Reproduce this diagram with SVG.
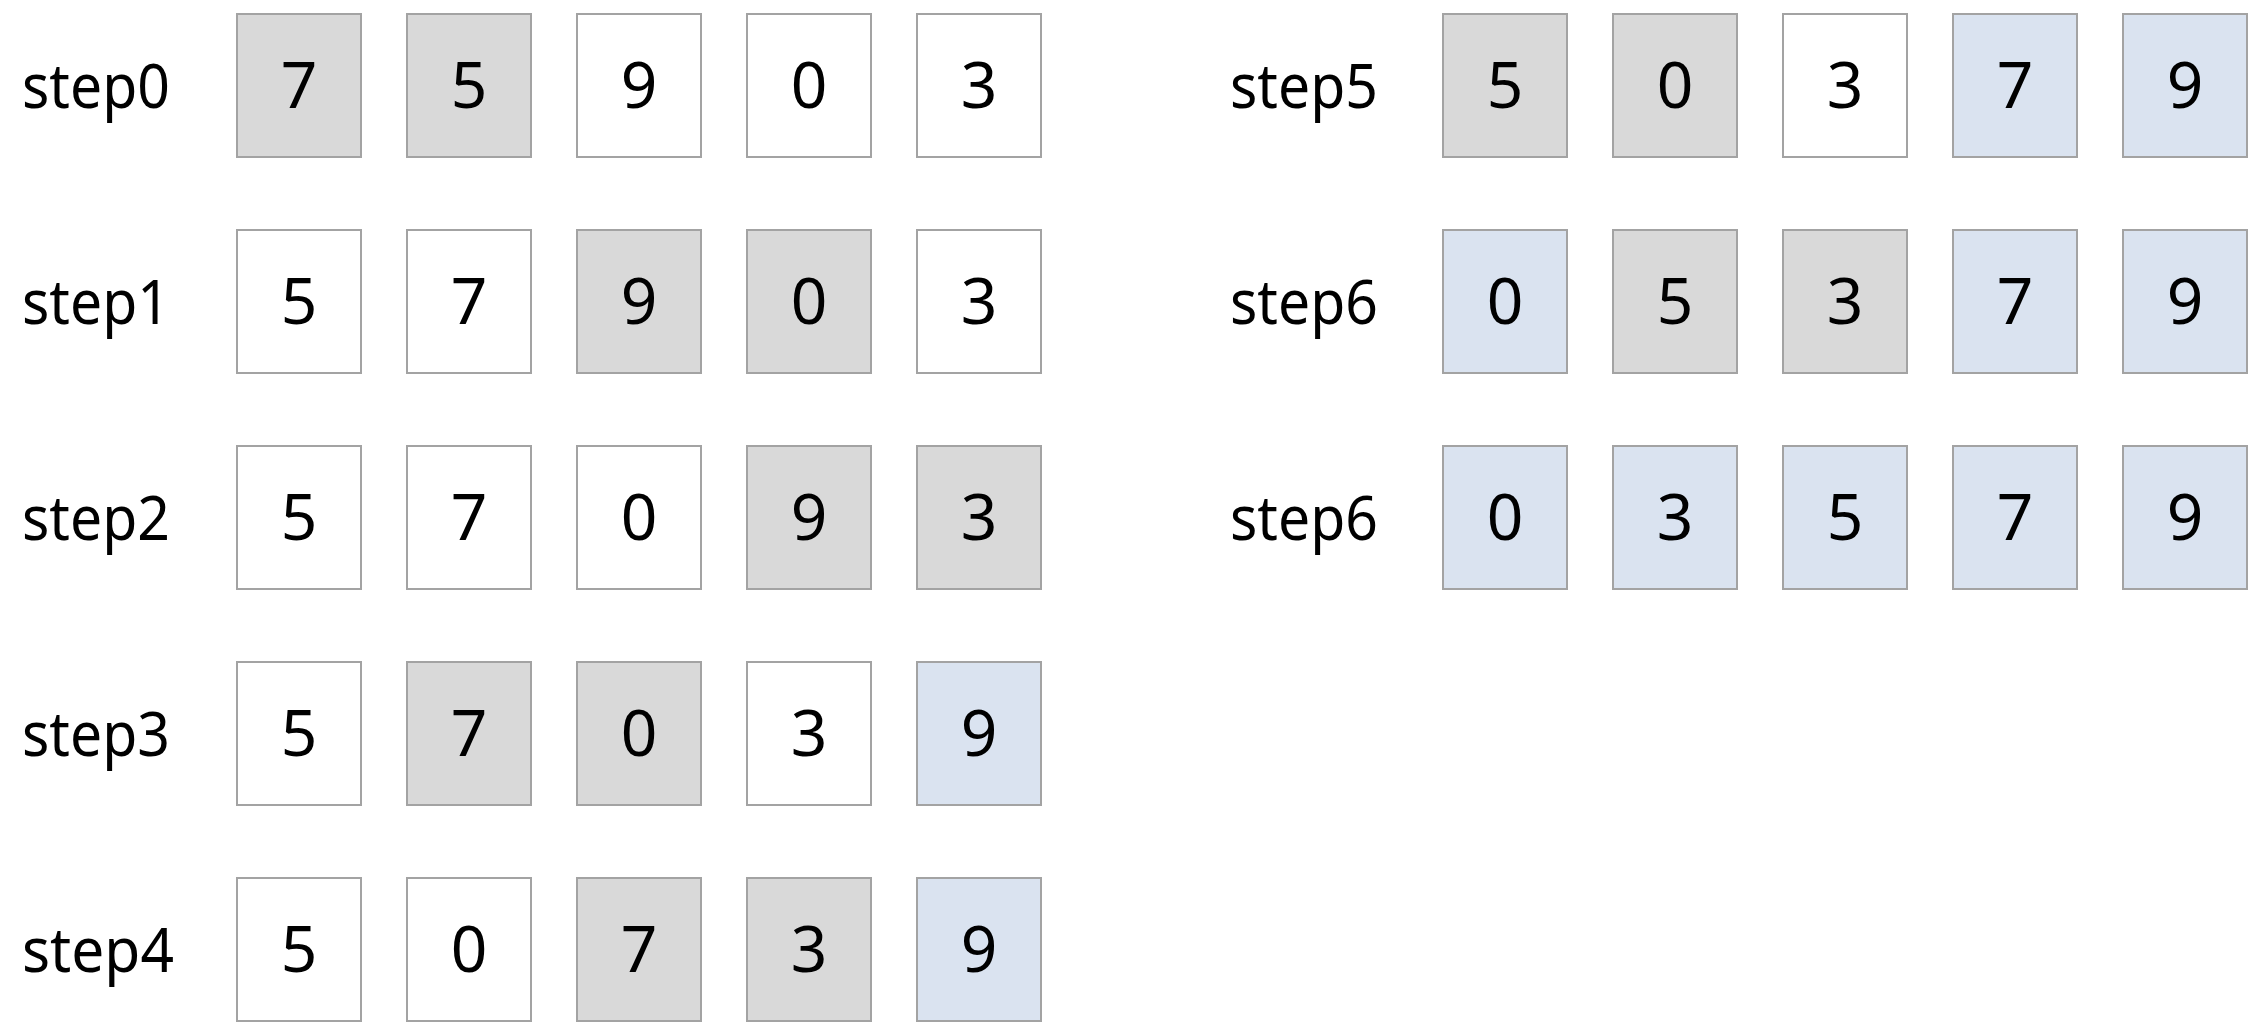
<svg xmlns="http://www.w3.org/2000/svg" width="2256" height="1028" viewBox="0 0 2256 1028">
<style>
.b{stroke:#a3a3a3;stroke-width:2}
.w{fill:#ffffff}
.g{fill:#d9d9d9}
.u{fill:#dae3f0}
.d{font-family:"Noto Sans","DejaVu Sans",sans-serif;font-size:64px;fill:#000;text-anchor:middle}
.l{font-family:"Noto Sans","DejaVu Sans",sans-serif;font-size:62px;fill:#000}
</style>
<rect width="2256" height="1028" fill="#ffffff"/>
<defs>
<g id="dummy"/>
</defs>
<g id="connectors"/>
<!-- Left column -->
<g id="step0">
<text class="l" x="22" y="108" textLength="148" lengthAdjust="spacingAndGlyphs">step0</text>
<rect class="b g" x="237" y="14" width="124" height="143"/><text class="d" x="299" y="108">7</text>
<rect class="b g" x="407" y="14" width="124" height="143"/><text class="d" x="469" y="108">5</text>
<rect class="b w" x="577" y="14" width="124" height="143"/><text class="d" x="639" y="108">9</text>
<rect class="b w" x="747" y="14" width="124" height="143"/><text class="d" x="809" y="108">0</text>
<rect class="b w" x="917" y="14" width="124" height="143"/><text class="d" x="979" y="108">3</text>
</g>
<g id="step1">
<text class="l" x="22" y="324" textLength="148" lengthAdjust="spacingAndGlyphs">step1</text>
<rect class="b w" x="237" y="230" width="124" height="143"/><text class="d" x="299" y="324">5</text>
<rect class="b w" x="407" y="230" width="124" height="143"/><text class="d" x="469" y="324">7</text>
<rect class="b g" x="577" y="230" width="124" height="143"/><text class="d" x="639" y="324">9</text>
<rect class="b g" x="747" y="230" width="124" height="143"/><text class="d" x="809" y="324">0</text>
<rect class="b w" x="917" y="230" width="124" height="143"/><text class="d" x="979" y="324">3</text>
</g>
<g id="step2">
<text class="l" x="22" y="540" textLength="148" lengthAdjust="spacingAndGlyphs">step2</text>
<rect class="b w" x="237" y="446" width="124" height="143"/><text class="d" x="299" y="540">5</text>
<rect class="b w" x="407" y="446" width="124" height="143"/><text class="d" x="469" y="540">7</text>
<rect class="b w" x="577" y="446" width="124" height="143"/><text class="d" x="639" y="540">0</text>
<rect class="b g" x="747" y="446" width="124" height="143"/><text class="d" x="809" y="540">9</text>
<rect class="b g" x="917" y="446" width="124" height="143"/><text class="d" x="979" y="540">3</text>
</g>
<g id="step3">
<text class="l" x="22" y="756" textLength="148" lengthAdjust="spacingAndGlyphs">step3</text>
<rect class="b w" x="237" y="662" width="124" height="143"/><text class="d" x="299" y="756">5</text>
<rect class="b g" x="407" y="662" width="124" height="143"/><text class="d" x="469" y="756">7</text>
<rect class="b g" x="577" y="662" width="124" height="143"/><text class="d" x="639" y="756">0</text>
<rect class="b w" x="747" y="662" width="124" height="143"/><text class="d" x="809" y="756">3</text>
<rect class="b u" x="917" y="662" width="124" height="143"/><text class="d" x="979" y="756">9</text>
</g>
<g id="step4">
<text class="l" x="22" y="972" textLength="152" lengthAdjust="spacingAndGlyphs">step4</text>
<rect class="b w" x="237" y="878" width="124" height="143"/><text class="d" x="299" y="972">5</text>
<rect class="b w" x="407" y="878" width="124" height="143"/><text class="d" x="469" y="972">0</text>
<rect class="b g" x="577" y="878" width="124" height="143"/><text class="d" x="639" y="972">7</text>
<rect class="b g" x="747" y="878" width="124" height="143"/><text class="d" x="809" y="972">3</text>
<rect class="b u" x="917" y="878" width="124" height="143"/><text class="d" x="979" y="972">9</text>
</g>
<!-- Right column -->
<g id="step5">
<text class="l" x="1230" y="108" textLength="148" lengthAdjust="spacingAndGlyphs">step5</text>
<rect class="b g" x="1443" y="14" width="124" height="143"/><text class="d" x="1505" y="108">5</text>
<rect class="b g" x="1613" y="14" width="124" height="143"/><text class="d" x="1675" y="108">0</text>
<rect class="b w" x="1783" y="14" width="124" height="143"/><text class="d" x="1845" y="108">3</text>
<rect class="b u" x="1953" y="14" width="124" height="143"/><text class="d" x="2015" y="108">7</text>
<rect class="b u" x="2123" y="14" width="124" height="143"/><text class="d" x="2185" y="108">9</text>
</g>
<g id="step6a">
<text class="l" x="1230" y="324" textLength="148" lengthAdjust="spacingAndGlyphs">step6</text>
<rect class="b u" x="1443" y="230" width="124" height="143"/><text class="d" x="1505" y="324">0</text>
<rect class="b g" x="1613" y="230" width="124" height="143"/><text class="d" x="1675" y="324">5</text>
<rect class="b g" x="1783" y="230" width="124" height="143"/><text class="d" x="1845" y="324">3</text>
<rect class="b u" x="1953" y="230" width="124" height="143"/><text class="d" x="2015" y="324">7</text>
<rect class="b u" x="2123" y="230" width="124" height="143"/><text class="d" x="2185" y="324">9</text>
</g>
<g id="step6b">
<text class="l" x="1230" y="540" textLength="148" lengthAdjust="spacingAndGlyphs">step6</text>
<rect class="b u" x="1443" y="446" width="124" height="143"/><text class="d" x="1505" y="540">0</text>
<rect class="b u" x="1613" y="446" width="124" height="143"/><text class="d" x="1675" y="540">3</text>
<rect class="b u" x="1783" y="446" width="124" height="143"/><text class="d" x="1845" y="540">5</text>
<rect class="b u" x="1953" y="446" width="124" height="143"/><text class="d" x="2015" y="540">7</text>
<rect class="b u" x="2123" y="446" width="124" height="143"/><text class="d" x="2185" y="540">9</text>
</g>
</svg>
